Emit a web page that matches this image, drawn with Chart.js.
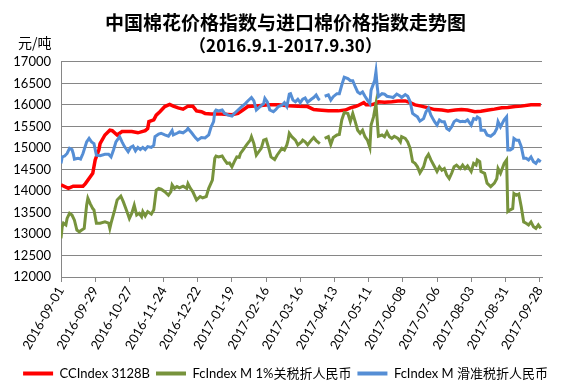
<!DOCTYPE html>
<html>
<head>
<meta charset="utf-8">
<script src="https://cdn.jsdelivr.net/npm/chart.js@4/dist/chart.umd.min.js"></script>
<style>
  html, body { margin: 0; padding: 0; background: #fff; }
  #wrap { width: 563px; height: 390px; }
</style>
</head>
<body>
<div id="wrap"><canvas id="chartCotton" width="563" height="390"></canvas></div>
<script>
// x values are days since 2016-09-01
const startDate = '2016-09-01';
const tickLabels = ['2016-09-01', '2016-09-29', '2016-10-27', '2016-11-24', '2016-12-22',
  '2017-01-19', '2017-02-16', '2017-03-16', '2017-04-13', '2017-05-11', '2017-06-08',
  '2017-07-06', '2017-08-03', '2017-08-31', '2017-09-28'];
const seriesNames = ['CCIndex 3128B', 'FcIndex M 1%关税折人民币', 'FcIndex M 滑准税折人民币'];

const ccDays = [0,6,10,18,20,24,26,28,31,32,36,40,42,46,50,58,63,69,71,72,76,78,81,85,89,92,96,100,104,108,
  111,115,118,123,129,134,140,145,149,153,162,170,178,186,194,202,207,211,219,227,233,237,241,243,248,250,254,258,260,265,
  271,276,282,286,290,295,301,306,312,317,323,328,333,339,344,350,355,361,366,372,377,385,393];
const ccValues = [14140,14060,14110,14110,14170,14330,14410,14720,14950,15100,15300,15410,15400,15300,15380,15380,15350,15400,15450,15610,
  15650,15760,15840,15960,16010,15970,15930,15900,15970,15970,15860,15840,15800,15790,15790,15780,15770,15800,15880,15960,
  15980,16000,16000,15980,15970,15960,15890,15880,15860,15860,15880,15930,15960,15980,16050,16000,16000,16030,16070,16060,
  16070,16090,16090,16050,16000,15970,15930,15890,15880,15860,15880,15890,15880,15840,15850,15880,15900,15930,15940,15960,
  15970,16000,16000];

const fc1Days = [0,1,2,4,5,7,9,11,13,15,17,19,21,22,24,26,27,29,32,36,39,40,41,44,46,49,51,54,56,58,60,62,64,66,67,69,71,74,76,78,
  80,82,85,88,90,91,93,95,97,100,103,104,106,108,111,114,116,119,121,124,126,127,
  129,132,134,136,138,140,142,144,146,147,149,152,155,156,158,160,162,164,166,168,170,172,175,177,179,181,183,185,186,187,
  189,192,194,197,198,200,202,205,207,209,212,214,216,219,221,223,226,228,230,232,235,237,239,241,243,245,247,249,251,253,
  254,256,258,259,260,263,265,267,269,271,273,276,278,279,282,284,286,288,290,292,294,297,299,301,303,306,308,310,312,314,
  316,318,320,322,324,327,329,331,333,336,338,340,341,343,344,347,349,352,355,357,358,360,363,365,366,368,370,371,373,375,
  377,379,381,383,385,387,389,391,393];
const fc1Values = [12900,13170,13250,13210,13360,13480,13440,13320,13090,13050,13090,13130,13670,13830,13700,13590,13560,13250,13250,13280,
  13250,13130,13250,13560,13790,13880,13750,13520,13360,13480,13670,13440,13480,13400,13520,13420,13520,13460,13560,14020,
  14060,14040,13980,13900,13980,14140,14060,14100,14070,14110,14060,14170,14060,13980,13790,13870,13840,13870,14060,14250,
  14760,14810,
  14790,14810,14720,14640,14650,14560,14680,14790,14780,14870,14950,15070,15180,15260,15100,14830,14910,14990,15180,15200,
  15010,14790,14730,14830,14910,14990,14950,15070,15180,15340,15260,15180,15070,15140,15180,15140,15070,15180,15240,15170,
  15100,null,15220,15260,15080,15240,15300,15310,15650,15820,15800,15610,15800,15610,15410,15340,15410,15260,15180,15010,
  15530,15720,16030,15650,15270,15300,15260,15370,15260,15220,15270,15220,15140,15260,15220,15140,14990,14680,14640,14560,
  14420,14560,14760,14850,14720,14560,14450,14560,14480,14520,14370,14290,14410,14560,14600,14520,14600,14520,14580,14450,
  14640,14600,14720,14680,14450,14410,14180,14100,14180,14290,14520,14410,14640,14720,13520,13560,13590,13940,13900,13930,
  13630,13280,13250,13210,13280,13170,13130,13210,13130];

const fcSlDays = [0,1,3,5,7,9,10,11,14,16,18,21,23,25,27,29,32,36,39,41,43,45,48,50,52,55,57,59,61,63,65,67,69,71,74,76,77,80,82,85,
  88,91,92,95,97,100,103,104,107,110,112,115,118,121,123,125,126,127,
  129,132,134,137,140,142,145,148,151,153,156,158,160,163,166,167,169,171,174,176,178,181,183,185,187,188,190,192,194,196,
  198,200,202,205,207,209,211,212,214,216,219,221,223,226,228,230,232,235,237,239,241,243,245,247,249,251,253,254,257,258,
  259,260,263,265,267,269,272,275,278,279,282,284,286,288,290,292,294,297,299,301,303,306,308,310,312,314,316,318,320,322,
  324,327,329,331,333,336,338,340,341,343,344,347,349,352,355,357,358,360,363,365,366,368,370,371,373,375,377,379,381,383,
  385,387,389,391,393];
const fcSlValues = [14640,14790,14810,14870,14990,14960,14870,14740,14760,14740,14870,15140,15220,15140,15100,14830,14820,14850,14850,14790,
  14950,15140,15260,15140,15030,14910,15010,15040,14930,15010,14960,15010,14960,15030,15010,15060,15260,15320,15340,15300,
  15270,15400,15300,15340,15370,15350,15410,15450,15350,15240,15180,15240,15230,15300,15490,15610,15840,15880,
  15860,15880,15800,15760,15740,15800,15880,15960,16030,16090,16170,16090,15880,15960,16030,16150,16070,15880,15840,15890,
  15960,15990,16050,15960,16250,16260,16110,16070,16130,16050,16130,16160,16060,16130,16170,16230,16130,16110,null,16200,
  16230,16110,16190,16260,16260,16460,16640,16610,16560,16560,16420,16300,16260,16300,16200,16110,16030,16340,16570,16770,
  16430,16190,16260,16250,16200,16190,16170,16250,16200,16170,16240,16200,16070,15800,15760,15720,15620,15680,15840,15920,
  15760,15610,15530,15650,15610,15610,15450,15410,15490,15610,15650,15610,15620,15610,15650,15530,15680,15660,15720,15680,
  15410,15410,15300,15270,15340,15450,15610,15490,15650,15720,14950,14950,14990,15220,15180,15180,15030,14760,14760,14720,
  14790,14680,14640,14720,14680];

const dayOf = (d) => Math.round((Date.parse(d) - Date.parse(startDate)) / 86400000);
const toPoints = (days, vals) => days.map((d, i) => ({ x: d, y: vals[i] }));

Chart.defaults.font.family = "Lato, 'Noto Sans CJK SC', sans-serif";
Chart.defaults.font.size = 13;
Chart.defaults.color = '#000';

const unitLabel = {
  id: 'unitLabel',
  afterDraw(chart) {
    const c = chart.ctx;
    c.save();
    c.font = "14px 'Noto Sans CJK SC'";
    c.fillStyle = '#000';
    c.textBaseline = 'middle';
    c.fillText('元/吨', 18, 43);
    c.restore();
  }
};

const ctx = document.getElementById('chartCotton');
const cottonChart = new Chart(ctx, {
  type: 'line',
  data: {
    datasets: [{
      label: seriesNames[0],
      data: toPoints(ccDays, ccValues),
      borderColor: '#FF0000',
      backgroundColor: '#FF0000',
      borderWidth: 3.5,
      order: 2
    }, {
      label: seriesNames[1],
      data: toPoints(fc1Days, fc1Values),
      borderColor: '#77933C',
      backgroundColor: '#77933C',
      borderWidth: 3,
      order: 1
    }, {
      label: seriesNames[2],
      data: toPoints(fcSlDays, fcSlValues),
      borderColor: '#558ED5',
      backgroundColor: '#558ED5',
      borderWidth: 3,
      order: 0
    }]
  },
  options: {
    responsive: false,
    animation: false,
    devicePixelRatio: 1,
    elements: { point: { radius: 0 }, line: { tension: 0 } },
    layout: { padding: { left: 8, right: 0, top: 0, bottom: 0 } },
    plugins: {
      title: {
        display: true,
        text: '中国棉花价格指数与进口棉价格指数走势图',
        font: { family: "'Noto Sans CJK SC'", size: 19, weight: 'bold', lineHeight: 1.3 },
        color: '#000',
        padding: { top: 10, bottom: 0 }
      },
      subtitle: {
        display: true,
        text: '（2016.9.1-2017.9.30）',
        font: { family: "'Noto Sans CJK SC'", size: 17, weight: 'bold', lineHeight: 1.3 },
        color: '#000',
        padding: { top: 0, bottom: 5 }
      },
      legend: {
        position: 'bottom',
        labels: {
          boxWidth: 30,
          boxHeight: 4,
          padding: 6,
          font: { size: 13 },
          sort: (a, b) => a.datasetIndex - b.datasetIndex,
          generateLabels: (chart) => Chart.defaults.plugins.legend.labels.generateLabels(chart)
            .map(l => ({ ...l, lineWidth: 0 }))
        }
      },
      tooltip: { enabled: false }
    },
    scales: {
      x: {
        type: 'linear',
        min: 0,
        max: 394,
        afterBuildTicks: (scale) => {
          scale.ticks = tickLabels.map(l => ({ value: dayOf(l) }));
        },
        afterFit: (scale) => { scale.height = 84; },
        ticks: {
          autoSkip: false,
          minRotation: 60,
          maxRotation: 60,
          padding: 2,
          color: '#000',
          callback: (value, index) => tickLabels[index]
        },
        grid: { drawOnChartArea: false, drawTicks: true, tickLength: 5, color: '#868686' },
        border: { color: '#868686' }
      },
      y: {
        min: 12000,
        max: 17000,
        ticks: {
          stepSize: 500,
          padding: 10,
          color: '#000',
          callback: (v) => String(v)
        },
        afterFit: (scale) => { scale.width = 53; },
        grid: { color: '#868686', drawTicks: false },
        border: { color: '#868686' }
      },
      // empty right margin so the plot ends where the reference does
      yRight: {
        position: 'right',
        min: 12000,
        max: 17000,
        ticks: { display: false },
        grid: { display: false },
        border: { display: false },
        afterFit: (scale) => { scale.width = 21; }
      }
    }
  },
  plugins: [unitLabel]
});
</script>
</body>
</html>
